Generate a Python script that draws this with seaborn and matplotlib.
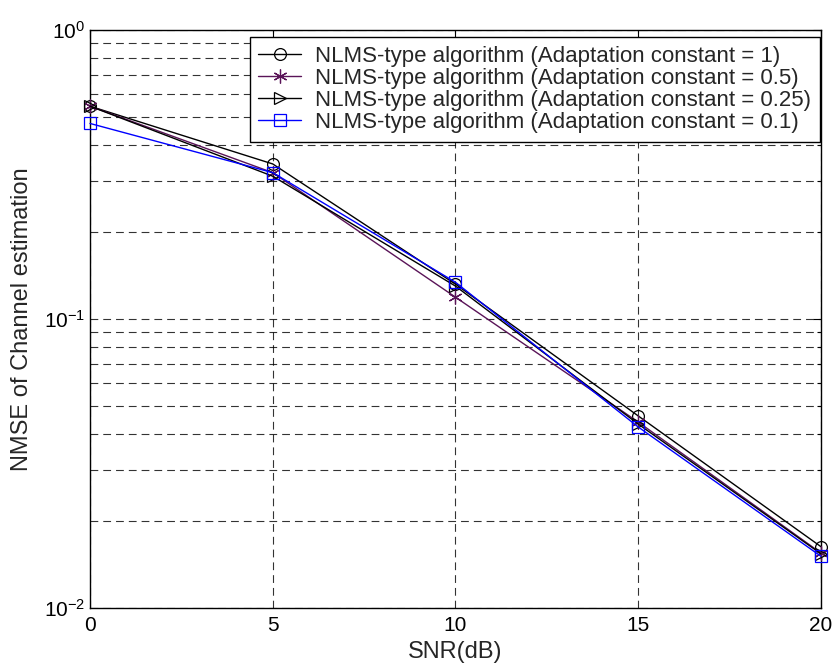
import numpy as np
import pandas as pd
import matplotlib
matplotlib.use("Agg")
import matplotlib.pyplot as plt
import seaborn as sns
from matplotlib.ticker import LogLocator, NullFormatter

snr_db = [0, 5, 10, 15, 20]
nmse_mu_1 = [0.545, 0.344, 0.132, 0.0462, 0.0163]
nmse_mu_05 = [0.545, 0.321, 0.119, 0.0440, 0.0155]
nmse_mu_025 = [0.545, 0.312, 0.130, 0.0433, 0.0154]
nmse_mu_01 = [0.475, 0.321, 0.134, 0.0423, 0.0151]

labels = [
    "NLMS-type algorithm (Adaptation constant = 1)",
    "NLMS-type algorithm (Adaptation constant = 0.5)",
    "NLMS-type algorithm (Adaptation constant = 0.25)",
    "NLMS-type algorithm (Adaptation constant = 0.1)",
]
series = [nmse_mu_1, nmse_mu_05, nmse_mu_025, nmse_mu_01]
colors = ["black", "#5a1458", "black", "#0000ff"]
markers = ["o", (6, 2, 0), ">", "s"]
msizes = [8.5, 10, 9, 8.5]

sns.set_theme(style="white")
plt.rcParams["font.family"] = ["Liberation Sans", "DejaVu Sans"]
plt.rcParams["mathtext.fontset"] = "custom"
plt.rcParams["mathtext.rm"] = "Liberation Sans"

fig = plt.figure(figsize=(8.34, 6.70), dpi=100)
ax = fig.add_axes([0.1079, 0.0925, 0.8765, 0.8627])

frames = []
for lab, vals in zip(labels, series):
    frames.append(pd.DataFrame({"SNR": snr_db, "NMSE": vals, "series": lab}))
df = pd.concat(frames, ignore_index=True)

for lab, col, mk, ms in zip(labels, colors, markers, msizes):
    sub = df[df["series"] == lab]
    sns.lineplot(data=sub, x="SNR", y="NMSE", ax=ax, color=col, marker=mk,
                 markersize=ms, markerfacecolor="none",
                 markeredgecolor=col, markeredgewidth=0.9, linewidth=1.0,
                 label=lab, clip_on=False, zorder=3)

ax.set_yscale("log")
ax.set_xlim(0, 20)
ax.set_ylim(1e-2, 1e0)
ax.set_xticks([0, 5, 10, 15, 20])
ax.yaxis.set_major_locator(LogLocator(base=10, numticks=10))
ax.yaxis.set_minor_locator(LogLocator(base=10, subs=np.arange(2, 10), numticks=20))
ax.yaxis.set_minor_formatter(NullFormatter())

grid_kw = dict(color="black", linestyle=(0, (7, 4.5)), linewidth=0.8, alpha=0.8)
ax.grid(True, which="major", axis="both", **grid_kw)
ax.grid(True, which="minor", axis="y", **grid_kw)

ax.tick_params(which="both", direction="in", top=True, right=True,
               labelsize=15, length=6, width=0.8, colors="black")
ax.tick_params(which="minor", length=3)
ax.tick_params(axis="x", pad=6)
for sp in ax.spines.values():
    sp.set_color("black")
    sp.set_linewidth(1.0)

ax.set_xlabel("SNR(dB)", fontsize=17, labelpad=4)
ax.set_ylabel("NMSE of Channel estimation", fontsize=17, labelpad=8)

leg = ax.legend(loc="upper right", bbox_to_anchor=(0.9986, 0.988),
                fontsize=16, frameon=True, fancybox=False,
                edgecolor="black", framealpha=1, borderaxespad=0,
                handlelength=1.9, handletextpad=0.65, labelspacing=0.05,
                borderpad=0.4)
leg.get_frame().set_linewidth(1.0)

fig.savefig("out.png", dpi=100)
